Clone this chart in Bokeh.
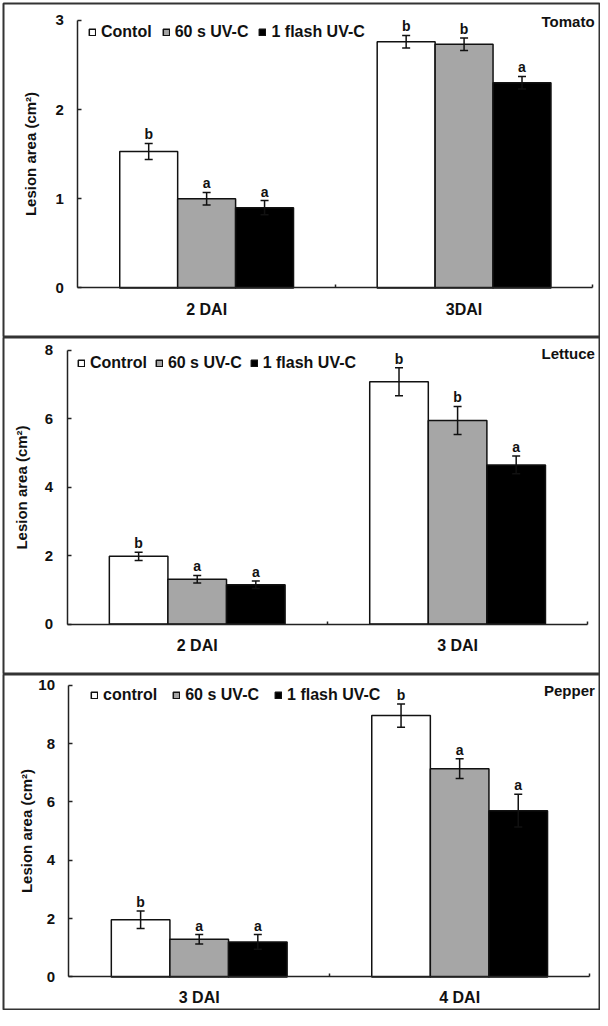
from bokeh.plotting import figure
from bokeh.models import (ColumnDataSource, Whisker, TeeHead, Legend, LegendItem,
                          Label, FixedTicker, Range1d)
from bokeh.layouts import column
from bokeh.embed import file_html
from bokeh.resources import INLINE
from bokeh.core.properties import value

FONT = "Liberation Sans"

# ---------------- Tomato ----------------
tomato_days = ["2 DAI", "3DAI"]
tomato_series = ["Contol", "60 s UV-C", "1 flash UV-C"]
tomato_control = [1.53, 2.76]
tomato_uv60 = [1.00, 2.73]
tomato_flash = [0.90, 2.30]
tomato_control_err = [0.09, 0.07]
tomato_uv60_err = [0.07, 0.07]
tomato_flash_err = [0.08, 0.07]
tomato_control_sig = ["b", "b"]
tomato_uv60_sig = ["a", "b"]
tomato_flash_sig = ["a", "a"]
tomato_yticks = [0, 1, 2, 3]

# ---------------- Lettuce ----------------
lettuce_days = ["2 DAI", "3 DAI"]
lettuce_series = ["Control", "60 s UV-C", "1 flash UV-C"]
lettuce_control = [1.98, 7.08]
lettuce_uv60 = [1.31, 5.95]
lettuce_flash = [1.15, 4.65]
lettuce_control_err = [0.12, 0.41]
lettuce_uv60_err = [0.11, 0.41]
lettuce_flash_err = [0.11, 0.26]
lettuce_control_sig = ["b", "b"]
lettuce_uv60_sig = ["a", "b"]
lettuce_flash_sig = ["a", "a"]
lettuce_yticks = [0, 2, 4, 6, 8]

# ---------------- Pepper ----------------
pepper_days = ["3 DAI", "4 DAI"]
pepper_series = ["control", "60 s UV-C", "1 flash UV-C"]
pepper_control = [1.96, 8.96]
pepper_uv60 = [1.29, 7.14]
pepper_flash = [1.20, 5.70]
pepper_control_err = [0.30, 0.40]
pepper_uv60_err = [0.16, 0.34]
pepper_flash_err = [0.25, 0.56]
pepper_control_sig = ["b", "b"]
pepper_uv60_sig = ["a", "a"]
pepper_flash_sig = ["a", "a"]
pepper_yticks = [0, 2, 4, 6, 8, 10]

fills = ["#ffffff", "#a6a6a6", "#000000"]
INK = "#111111"
AXC = "#222222"
W = 600


def make_panel(name, days, series, means, errs, sigs, yticks, height, xr, yr,
               mb_top, mb_bottom, ylabel_standoff, xlabel_standoff,
               leg_x, leg_y, leg_spacing, name_x, name_y):
    p = figure(width=W, height=height, output_backend="svg", toolbar_location=None,
               x_range=Range1d(*xr), y_range=Range1d(*yr),
               min_border_left=3, min_border_right=1,
               min_border_top=mb_top, min_border_bottom=mb_bottom)
    p.outline_line_color = "#333333"
    p.outline_line_width = 2
    p.grid.visible = False
    p.background_fill_color = "white"
    p.border_fill_color = "white"

    bw = 0.225
    n = len(days)
    renderers = []
    for j in range(3):
        xs = [i + 0.5 + (j - 1) * bw for i in range(n)]
        up = [m + e for m, e in zip(means[j], errs[j])]
        lo = [m - e for m, e in zip(means[j], errs[j])]
        src = ColumnDataSource(dict(x=xs, top=means[j], upper=up, lower=lo, sig=sigs[j]))
        r = p.vbar(x="x", top="top", bottom=0, width=bw, source=src,
                   fill_color=fills[j], line_color=INK, line_width=1.5)
        renderers.append(r)
        w = Whisker(base="x", upper="upper", lower="lower", source=src,
                    line_color=INK, line_width=1.5, level="annotation",
                    upper_head=TeeHead(size=8, line_width=1.5, line_color=INK),
                    lower_head=TeeHead(size=8, line_width=1.5, line_color=INK))
        p.add_layout(w)
        p.text(x="x", y="upper", text="sig", source=src, text_align="center",
               text_baseline="alphabetic", y_offset=-9, text_font=value(FONT),
               text_font_style="bold", text_font_size="14px", text_color=INK)

    # y axis (drawn at x = 0 inside the frame)
    yax = p.yaxis[0]
    yax.fixed_location = 0
    yax.ticker = FixedTicker(ticks=yticks, minor_ticks=[])
    yax.bounds = (0, yticks[-1])
    yax.axis_label = "Lesion area (cm²)"
    yax.axis_label_text_font = FONT
    yax.axis_label_text_font_style = "bold"
    yax.axis_label_text_font_size = "15px"
    yax.axis_label_text_color = INK
    yax.axis_label_standoff = ylabel_standoff
    yax.major_label_text_font = FONT
    yax.major_label_text_font_style = "bold"
    yax.major_label_text_font_size = "15px"
    yax.major_label_text_color = INK
    yax.major_label_standoff = 14
    yax.major_tick_in = 4
    yax.major_tick_out = 0
    yax.major_tick_line_color = AXC
    yax.major_tick_line_width = 1.5
    yax.axis_line_color = AXC
    yax.axis_line_width = 1.5

    # x axis (drawn at y = 0 inside the frame)
    xax = p.xaxis[0]
    xax.fixed_location = 0
    xax.ticker = FixedTicker(ticks=[i + 0.5 for i in range(n)],
                             minor_ticks=[i + 1 for i in range(n)])
    xax.major_label_overrides = {i + 0.5: d for i, d in enumerate(days)}
    xax.bounds = (0, n)
    xax.major_label_text_font = FONT
    xax.major_label_text_font_style = "bold"
    xax.major_label_text_font_size = "16px"
    xax.major_label_text_color = INK
    xax.major_label_standoff = xlabel_standoff
    xax.major_tick_in = 0
    xax.major_tick_out = 0
    xax.minor_tick_in = 3
    xax.minor_tick_out = 0
    xax.minor_tick_line_color = AXC
    xax.minor_tick_line_width = 1.5
    xax.axis_line_color = AXC
    xax.axis_line_width = 1.5

    # legend (location = bottom-left corner of legend box, px from frame bottom-left)
    items = [LegendItem(label=value(s), renderers=[r]) for s, r in zip(series, renderers)]
    leg = Legend(items=items, orientation="horizontal", location=(leg_x, leg_y),
                 glyph_width=8, glyph_height=8, label_standoff=5, spacing=leg_spacing,
                 padding=0, margin=0, border_line_color=None, background_fill_alpha=0,
                 label_text_font=FONT, label_text_font_style="bold",
                 label_text_font_size="16px", label_text_color=INK,
                 label_height=20, label_width=10)
    p.add_layout(leg, "center")

    lab = Label(x=name_x, y=name_y, text=name, text_align="right", text_baseline="middle",
                text_font=FONT, text_font_style="bold", text_font_size="15px",
                text_color=INK)
    p.add_layout(lab)
    return p


p1 = make_panel("Tomato", tomato_days, tomato_series,
                [tomato_control, tomato_uv60, tomato_flash],
                [tomato_control_err, tomato_uv60_err, tomato_flash_err],
                [tomato_control_sig, tomato_uv60_sig, tomato_flash_sig],
                tomato_yticks, height=337, xr=(-0.289, 2.026), yr=(-0.555, 3.188),
                mb_top=3, mb_bottom=0, ylabel_standoff=13, xlabel_standoff=13,
                leg_x=85, leg_y=295, leg_spacing=10, name_x=2.007, name_y=2.988)
p2 = make_panel("Lettuce", lettuce_days, lettuce_series,
                [lettuce_control, lettuce_uv60, lettuce_flash],
                [lettuce_control_err, lettuce_uv60_err, lettuce_flash_err],
                [lettuce_control_sig, lettuce_uv60_sig, lettuce_flash_sig],
                lettuce_yticks, height=337, xr=(-0.244, 2.045), yr=(-1.473, 8.374),
                mb_top=0, mb_bottom=0, ylabel_standoff=12, xlabel_standoff=13,
                leg_x=74, leg_y=301, leg_spacing=8, name_x=2.027, name_y=7.912)
p3 = make_panel("Pepper", pepper_days, pepper_series,
                [pepper_control, pepper_uv60, pepper_flash],
                [pepper_control_err, pepper_uv60_err, pepper_flash_err],
                [pepper_control_sig, pepper_uv60_sig, pepper_flash_sig],
                pepper_yticks, height=336, xr=(-0.2515, 2.037), yr=(-1.118, 10.370),
                mb_top=0, mb_bottom=1, ylabel_standoff=0, xlabel_standoff=12,
                leg_x=87, leg_y=304, leg_spacing=15, name_x=2.019, name_y=9.828)

layout = column(p1, p2, p3, spacing=0)
open("out.html", "w").write(file_html(layout, INLINE))
